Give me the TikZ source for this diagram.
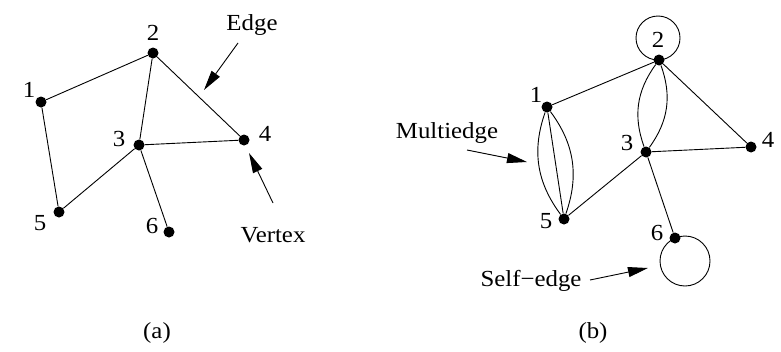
\documentclass[tikz,border=0pt]{standalone}
\usepackage{fontspec}
\setmainfont{Liberation Serif}[FakeStretch=1.08]
\usetikzlibrary{arrows.meta}
\begin{document}
\begin{tikzpicture}[x=1pt,y=-1pt,
  vtx/.style={circle,fill=black,inner sep=0pt,minimum size=11pt},
  lbl/.style={anchor=base,inner sep=0pt,font=\fontsize{23}{27}\selectfont},
  gedge/.style={line width=0.9pt},
  pointer/.style={line width=0.9pt,-{Triangle[length=20pt,width=10pt]}}]
\useasboundingbox (0,0) rectangle (781,351);

% ---------- panel (a) ----------
\node[vtx] (a1) at (41,102) {};
\node[vtx] (a2) at (153,53) {};
\node[vtx] (a3) at (139,145) {};
\node[vtx] (a4) at (244,140) {};
\node[vtx] (a5) at (59,212) {};
\node[vtx] (a6) at (169,232) {};
\draw[gedge] (a1) -- (a2);
\draw[gedge] (a1) -- (a5);
\draw[gedge] (a2) -- (a3);
\draw[gedge] (a2) -- (a4);
\draw[gedge] (a3) -- (a4);
\draw[gedge] (a3) -- (a5);
\draw[gedge] (a3) -- (a6);
\node[lbl] (la1) at (29,97) {1};
\node[lbl] (la2) at (153,40) {2};
\node[lbl] (la3) at (119,146) {3};
\node[lbl] (la4) at (265,141) {4};
\node[lbl] (la5) at (40,230) {5};
\node[lbl] (la6) at (152,233) {6};
\node[lbl] (tedge) at (252,30) {Edge};
\node[lbl] (tvertex) at (273,242) {Vertex};
\coordinate (edgefrom) at (238,43);
\coordinate (edgetip) at (204,90);
\coordinate (vertexfrom) at (273,203);
\coordinate (vertextip) at (249,153);
\draw[pointer] (edgefrom) -- (edgetip);
\draw[pointer] (vertexfrom) -- (vertextip);
\node[lbl] (capa) at (157,338) {(a)};

% ---------- panel (b) ----------
\node[vtx] (b1) at (547,107) {};
\node[vtx] (b2) at (659,60) {};
\node[vtx] (b3) at (646,152) {};
\node[vtx] (b4) at (751,147) {};
\node[vtx] (b5) at (564,219) {};
\node[vtx] (b6) at (675,238) {};
\draw[gedge] (b1) -- (b2);
\draw[gedge] (b1) -- (b5);
\draw[gedge] (b1) to[bend left=28] (b5);
\draw[gedge] (b1) to[bend right=28] (b5);
\draw[gedge] (b2) to[bend left=28] (b3);
\draw[gedge] (b2) to[bend right=28] (b3);
\draw[gedge] (b2) -- (b4);
\draw[gedge] (b3) -- (b4);
\draw[gedge] (b3) -- (b5);
\draw[gedge] (b3) -- (b6);
\coordinate (loop2c) at (658,38);
\coordinate (loop6c) at (685,261);
\draw[gedge] (loop2c) circle[radius=22pt];
\draw[gedge] (loop6c) circle[radius=25pt];
\node[lbl] (lb1) at (536,102) {1};
\node[lbl] (lb2) at (658,47) {2};
\node[lbl] (lb3) at (627,150) {3};
\node[lbl] (lb4) at (768,147) {4};
\node[lbl] (lb5) at (546,228) {5};
\node[lbl] (lb6) at (657,240) {6};
\node[lbl] (tmulti) at (447,138) {Multiedge};
\node[lbl] (tself) at (531,286) {Self−edge};
\coordinate (multifrom) at (467,150);
\coordinate (multitip) at (527,162);
\coordinate (selffrom) at (590,280);
\coordinate (selftip) at (648,268);
\draw[pointer] (multifrom) -- (multitip);
\draw[pointer] (selffrom) -- (selftip);
\node[lbl] (capb) at (593,338) {(b)};
\end{tikzpicture}
\end{document}
